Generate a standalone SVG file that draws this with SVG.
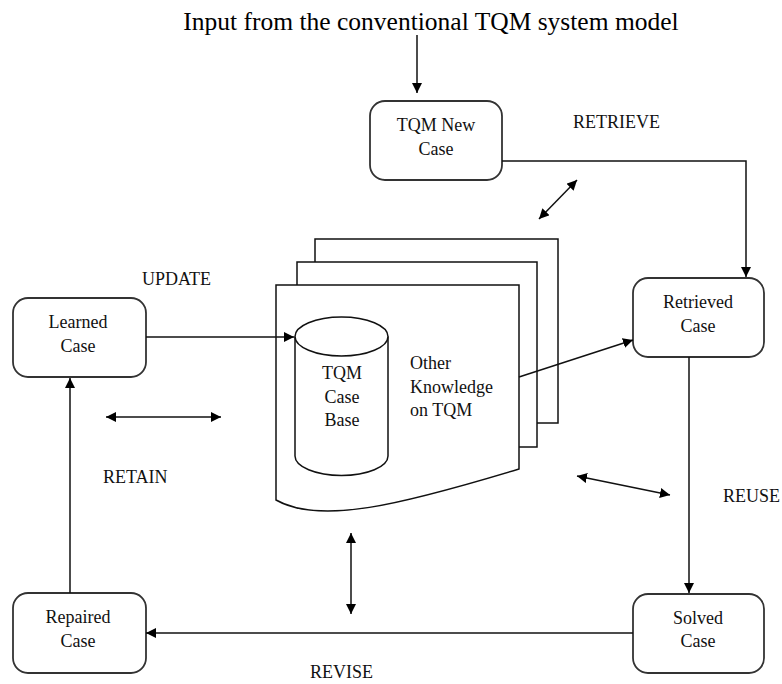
<svg xmlns="http://www.w3.org/2000/svg" width="782" height="684" viewBox="0 0 782 684">
<defs>
<style>
.box{fill:#fff;stroke:#333;stroke-width:1.8}
.page{fill:#fff;stroke:#111;stroke-width:1.5}
.ln{fill:none;stroke:#111;stroke-width:1.5}
.t{font-family:"Liberation Serif","Times New Roman",serif;font-size:18px;fill:#111;text-anchor:middle}
.lbl{font-family:"Liberation Serif","Times New Roman",serif;font-size:18px;fill:#111}
.title{font-family:"Liberation Serif","Times New Roman",serif;font-size:25.5px;fill:#000;text-anchor:middle}
</style>
<marker id="ah" viewBox="0 0 10 10" refX="10" refY="5" markerWidth="10" markerHeight="10" markerUnits="userSpaceOnUse" orient="auto-start-reverse">
<path d="M0,0 L10,5 L0,10 z" fill="#000"/>
</marker>
</defs>
<rect width="782" height="684" fill="#fff"/>

<text class="title" x="431" y="30">Input from the conventional TQM system model</text>

<g id="knowledge-base">
<rect class="page" x="315" y="239" width="243" height="184"/>
<rect class="page" x="297" y="262" width="240" height="185"/>
<path class="page" d="M276,285 L519,285 L519,469 C400,505 320,525 276,500 Z"/>
<g id="case-base">
<path class="page" d="M295,336.5 L295,456 A46.5,19.5 0 0 0 388,456 L388,336.5"/>
<ellipse class="page" cx="341.5" cy="336.5" rx="46.5" ry="19.5"/>
<text class="t" x="342" y="379">TQM</text>
<text class="t" x="342" y="403">Case</text>
<text class="t" x="342" y="426">Base</text>
</g>
<text class="lbl" x="410" y="369">Other</text>
<text class="lbl" x="410" y="393">Knowledge</text>
<text class="lbl" x="410" y="416">on TQM</text>
</g>

<g id="new-case">
<rect class="box" x="370" y="101" width="132" height="79" rx="15"/>
<text class="t" x="436" y="131">TQM New</text>
<text class="t" x="436" y="155">Case</text>
</g>
<g id="retrieved-case">
<rect class="box" x="633" y="278" width="131" height="79" rx="15"/>
<text class="t" x="698" y="308">Retrieved</text>
<text class="t" x="698" y="332">Case</text>
</g>
<g id="solved-case">
<rect class="box" x="633" y="594" width="131" height="79" rx="15"/>
<text class="t" x="698" y="624">Solved</text>
<text class="t" x="698" y="647">Case</text>
</g>
<g id="repaired-case">
<rect class="box" x="13" y="593" width="133" height="80" rx="15"/>
<text class="t" x="78" y="623">Repaired</text>
<text class="t" x="78" y="647">Case</text>
</g>
<g id="learned-case">
<rect class="box" x="13" y="298" width="133" height="79" rx="15"/>
<text class="t" x="78" y="328">Learned</text>
<text class="t" x="78" y="352">Case</text>
</g>

<g id="labels">
<text class="lbl" x="573" y="128">RETRIEVE</text>
<text class="lbl" x="142" y="285">UPDATE</text>
<text class="lbl" x="103" y="483">RETAIN</text>
<text class="lbl" x="723" y="502">REUSE</text>
<text class="lbl" x="310" y="678">REVISE</text>
</g>

<g id="connectors">
<line class="ln" x1="417" y1="35" x2="417" y2="93" marker-end="url(#ah)"/>
<polyline class="ln" points="502,161 746,161 746,277" marker-end="url(#ah)"/>
<line class="ln" x1="689" y1="357" x2="689" y2="593" marker-end="url(#ah)"/>
<line class="ln" x1="633" y1="633" x2="146" y2="633" marker-end="url(#ah)"/>
<line class="ln" x1="70" y1="593" x2="70" y2="378" marker-end="url(#ah)"/>
<line class="ln" x1="146" y1="337" x2="294" y2="337" marker-end="url(#ah)"/>
<line class="ln" x1="519" y1="377" x2="633" y2="340" marker-end="url(#ah)"/>
<line class="ln" x1="539" y1="219" x2="577" y2="180" marker-start="url(#ah)" marker-end="url(#ah)"/>
<line class="ln" x1="106" y1="417" x2="221" y2="417" marker-start="url(#ah)" marker-end="url(#ah)"/>
<line class="ln" x1="577" y1="476" x2="670" y2="495" marker-start="url(#ah)" marker-end="url(#ah)"/>
<line class="ln" x1="351" y1="533" x2="351" y2="614" marker-start="url(#ah)" marker-end="url(#ah)"/>
</g>
</svg>
